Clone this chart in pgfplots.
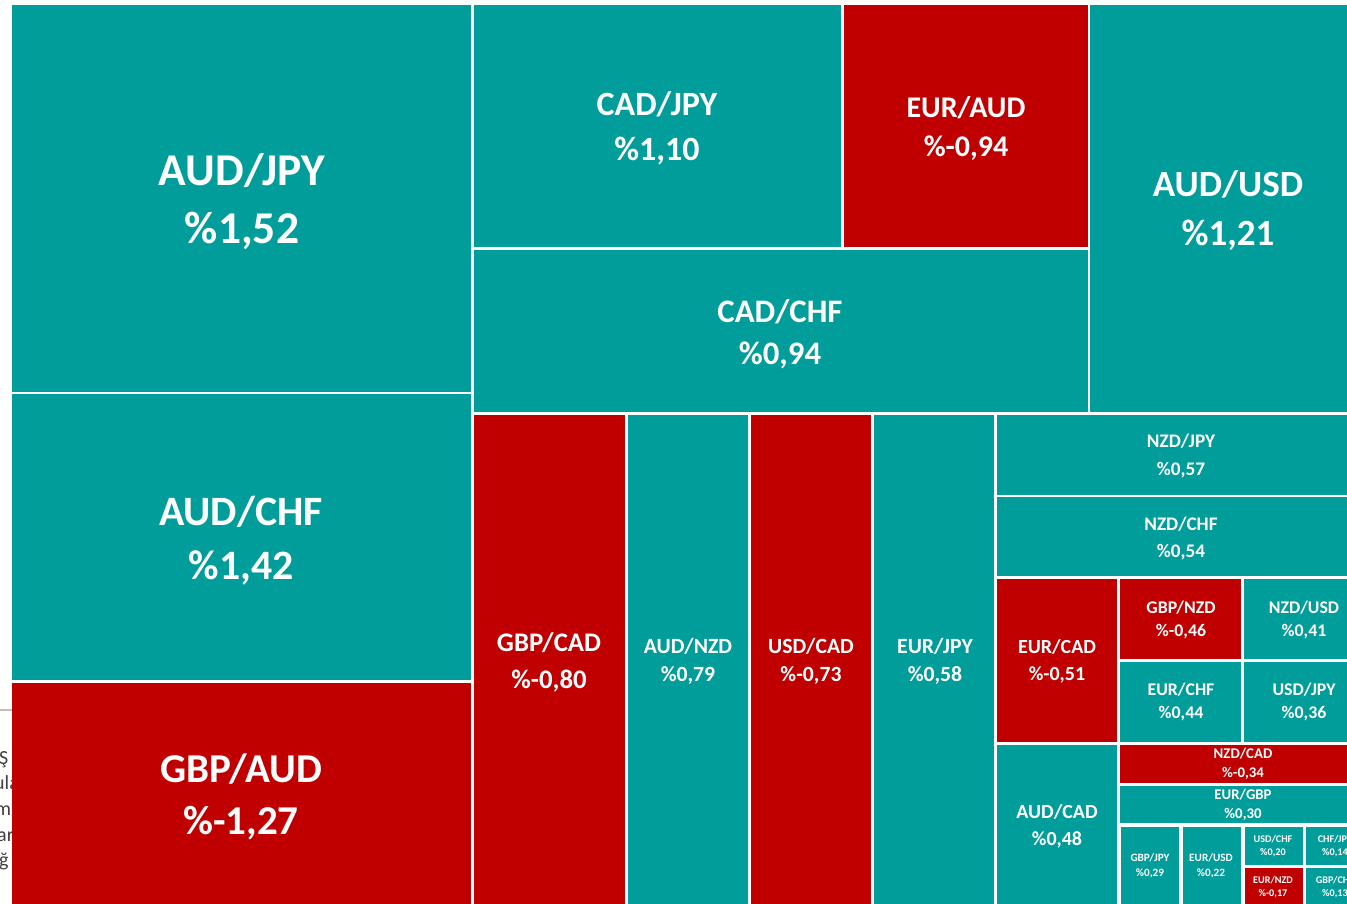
\documentclass[border=0pt]{standalone}
\usepackage{pgfplots}
\pgfplotsset{compat=1.18}
\usepackage{fontspec}
\setmainfont{Carlito}
\definecolor{tl}{RGB}{0,157,154}
\definecolor{rd}{RGB}{192,0,0}
\definecolor{gtx}{RGB}{64,64,64}
% rectangle: #1 colour, x0, y0, x1, y1 (pixel units, y downwards)
\newcommand{\cell}[5]{\addplot[fill=#1, draw=none] coordinates {(#2,#3) (#4,#3) (#4,#5) (#2,#5)} --cycle;}
% label: x, y(name), y(value), font size, name, value
\newcommand{\lab}[6]{%
  \node[anchor=base, text=white, inner sep=0pt, font=\fontsize{#4}{#4}\selectfont\bfseries, yshift={-0.32*#4pt}] at (axis cs:#1,#2) {#5};
  \node[anchor=base, text=white, inner sep=0pt, font=\fontsize{#4}{#4}\selectfont\bfseries, yshift={-0.32*#4pt}] at (axis cs:#1,#3) {#6};}
\begin{document}
\begin{tikzpicture}
\begin{axis}[width=1347pt, height=904pt, scale only axis,
  xmin=0, xmax=1347, ymin=0, ymax=904, y dir=reverse,
  hide axis, clip=true]
% background artefacts at the left edge
\addplot[draw={rgb,255:red,190;green,190;blue,190}, line width=2pt] coordinates {(0,710) (12,710)};
\node[anchor=base west, inner sep=0pt, text=gtx, font=\fontsize{20}{20}\selectfont] at (axis cs:-1,764) {Ş};
\node[anchor=base west, inner sep=0pt, text=gtx, font=\fontsize{20}{20}\selectfont] at (axis cs:-6,789) {ula};
\node[anchor=base west, inner sep=0pt, text=gtx, font=\fontsize{20}{20}\selectfont] at (axis cs:-5,815) {m};
\node[anchor=base west, inner sep=0pt, text=gtx, font=\fontsize{20}{20}\selectfont] at (axis cs:-3,841) {ar};
\node[anchor=base west, inner sep=0pt, text=gtx, font=\fontsize{20}{20}\selectfont] at (axis cs:-1,866) {ğ};
% cells
\cell{tl}{12}{5}{471}{392}
\cell{tl}{12}{394}{471}{680}
\cell{rd}{12}{683}{471}{904}
\cell{tl}{474}{5}{841}{247}
\cell{rd}{844}{5}{1088}{247}
\cell{tl}{474}{250}{1088}{412}
\cell{tl}{1090}{5}{1347}{412}
\cell{rd}{474}{415}{625}{904}
\cell{tl}{628}{415}{748}{904}
\cell{rd}{751}{415}{871}{904}
\cell{tl}{874}{415}{994}{904}
\cell{tl}{997}{415}{1347}{495}
\cell{tl}{997}{497}{1347}{576}
\cell{rd}{997}{579}{1117}{742}
\cell{rd}{1120}{579}{1241}{659}
\cell{tl}{1244}{579}{1347}{659}
\cell{tl}{1120}{662}{1241}{742}
\cell{tl}{1244}{662}{1347}{742}
\cell{tl}{997}{745}{1117}{904}
\cell{rd}{1120}{745}{1347}{783}
\cell{tl}{1120}{786}{1347}{823}
\cell{tl}{1121}{827}{1179}{904}
\cell{tl}{1183}{827}{1241}{904}
\cell{tl}{1245}{827}{1303}{865}
\cell{tl}{1306}{827}{1347}{865}
\cell{rd}{1245}{868}{1303}{904}
\cell{tl}{1306}{868}{1347}{904}
% labels
\lab{242}{171}{229}{45.5}{AUD/JPY}{\%1,52}
\lab{241}{512}{566}{41.8}{AUD/CHF}{\%1,42}
\lab{241}{769}{821}{41}{GBP/AUD}{\%-1,27}
\lab{657}{105}{150}{34}{CAD/JPY}{\%1,10}
\lab{966}{108}{147}{30}{EUR/AUD}{\%-0,94}
\lab{1228}{185}{234}{37}{AUD/USD}{\%1,21}
\lab{780}{312}{354}{32.8}{CAD/CHF}{\%0,94}
\lab{549}{643}{680}{26.8}{GBP/CAD}{\%-0,80}
\lab{688}{647}{675}{21.7}{AUD/NZD}{\%0,79}
\lab{811}{647}{675}{21.7}{USD/CAD}{\%-0,73}
\lab{935}{647}{675}{21.7}{EUR/JPY}{\%0,58}
\lab{1181}{441}{469}{19.2}{NZD/JPY}{\%0,57}
\lab{1181}{524}{551}{19.2}{NZD/CHF}{\%0,54}
\lab{1057}{647}{674}{20}{EUR/CAD}{\%-0,51}
\lab{1181}{608}{631}{17.8}{GBP/NZD}{\%-0,46}
\lab{1304}{608}{631}{17.8}{NZD/USD}{\%0,41}
\lab{1181}{690}{713}{17.8}{EUR/CHF}{\%0,44}
\lab{1304}{690}{713}{17.8}{USD/JPY}{\%0,36}
\lab{1057}{812}{839}{20}{AUD/CAD}{\%0,48}
\lab{1243}{754}{773}{14.8}{NZD/CAD}{\%-0,34}
\lab{1243}{795}{814}{14.8}{EUR/GBP}{\%0,30}
\lab{1150}{858}{873}{11.2}{GBP/JPY}{\%0,29}
\lab{1211}{858}{873}{11.2}{EUR/USD}{\%0,22}
\lab{1273}{839}{852}{10.2}{USD/CHF}{\%0,20}
\lab{1335}{839}{852}{10.2}{CHF/JPY}{\%0,14}
\lab{1273}{880}{893}{10.2}{EUR/NZD}{\%-0,17}
\lab{1335}{880}{893}{10.2}{GBP/CHF}{\%0,13}
\end{axis}
\pgfresetboundingbox
\path[use as bounding box] (current axis.south west) rectangle (current axis.north east);
\end{tikzpicture}
\end{document}
